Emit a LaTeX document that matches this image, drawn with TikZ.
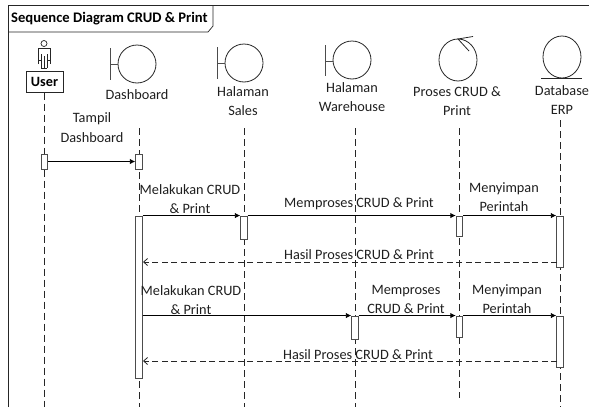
\documentclass[tikz,border=0pt]{standalone}
\usepackage{fontspec}
\setmainfont{Carlito}
\usetikzlibrary{arrows.meta}
\tikzset{
  lbl/.style={inner sep=0pt,font=\fontsize{14.3}{14.3}\selectfont,text=black!88},
  ttl/.style={inner sep=0pt,font=\fontsize{14.6}{14.6}\selectfont\bfseries,anchor=west},
  act/.style={draw=black!70,fill=white,line width=0.9pt,minimum width=6.5pt,inner sep=0pt},
  life/.style={draw=black!85,dash pattern=on 7pt off 4pt,line width=0.8pt},
  msg/.style={draw=black,line width=0.9pt,-{Latex[length=5.5pt,width=5.5pt]}},
  ret/.style={draw=black!85,line width=0.8pt,dash pattern=on 6pt off 3.5pt,-{Straight Barb[length=4pt,width=7pt]}},
  ball/.style={draw=black!85,line width=0.8pt},
}
\begin{document}
\begin{tikzpicture}[x=1pt,y=-1pt]
\useasboundingbox (0,0) rectangle (589,407);
% frame
\draw[black!85,line width=0.9pt] (8,407) -- (8,5) -- (589,5);
\draw[black!85,line width=0.7pt] (8,32) -- (208,32) -- (213,26) -- (213,5);
\node[ttl] (title) at (11,18.5) {Sequence Diagram CRUD \& Print};
% actor
\draw[black!85,line width=0.7pt] (44,43.5) circle (3);
\draw[black!85,line width=0.7pt,fill=white] (38.5,64) -- (38.5,48) -- (50.5,48) -- (50.5,64) (41,68) -- (41,54) (47,68) -- (47,54) (41,68) -- (47,68) (44,68) -- (44,56) (38.5,60) -- (41,60) (50.5,60) -- (47,60);
\node[draw=black!85,line width=1pt,minimum width=37pt,minimum height=21pt,inner sep=0pt,font=\fontsize{14.2}{14.2}\selectfont\bfseries] (user) at (44.5,81.5) {User};
% boundaries
\draw[ball] (137,64) circle (19);
\draw[black!70,line width=0.9pt] (110,48) -- (110,80) (110,64) -- (118,64);
\draw[ball] (244,63) circle (19);
\draw[black!70,line width=0.9pt] (217,47) -- (217,79) (217,63) -- (225,63);
\draw[ball] (352,60) circle (19);
\draw[black!70,line width=0.9pt] (325,45) -- (325,76) (325,61) -- (333,61);
% control
\draw[ball] (458,60) ellipse (19 and 21);
\draw[ball] (473,36.5) -- (458,39) -- (469,51);
% entity
\draw[ball] (562,57) ellipse (19 and 21);
\draw[ball] (541,78) -- (582,78);
% labels
\node[lbl] (ldash) at (137,95) {Dashboard};
\node[lbl,align=center] (lsal) at (243,101) {Halaman\\[5pt]Sales};
\node[lbl,align=center] (lwar) at (352,97) {Halaman\\[5pt]Warehouse};
\node[lbl,align=center] (lpro) at (457,101) {Proses CRUD \&\\[5pt]Print};
\node[lbl,align=center] (ldb) at (562,100) {Database\\[5pt]ERP};
% lifeline ends
\coordinate (t2) at (139,128); \coordinate (b2) at (139,407);
\coordinate (t3) at (244,128); \coordinate (b3) at (244,407);
\coordinate (t4) at (355,128); \coordinate (b4) at (355,407);
\coordinate (t5) at (459,128); \coordinate (b5) at (459,398);
\coordinate (t6) at (560,120); \coordinate (b6) at (560,407);
\coordinate (b1) at (44.5,407);
\draw[life] (user.south) -- (b1);
\draw[life] (t2) -- (b2);
\draw[life] (t3) -- (b3);
\draw[life] (t4) -- (b4);
\draw[life] (t5) -- (b5);
\draw[life] (t6) -- (b6);
% activations
\node[act,minimum height=15pt] (au) at (44.5,161.5) {};
\node[act,minimum height=15pt] (ad) at (139,161.5) {};
\node[act,minimum height=162pt] (big) at (139,297) {};
\node[act,minimum height=23pt] (as1) at (244,227.5) {};
\node[act,minimum height=20pt] (ap1) at (459.5,226) {};
\node[act,minimum height=51pt] (ae1) at (560,241.5) {};
\node[act,minimum height=23pt] (aw2) at (355,327.5) {};
\node[act,minimum height=21pt] (ap2) at (459.5,326.5) {};
\node[act,minimum height=51pt] (ae2) at (560,341.5) {};
% messages
\draw[msg] (au.east) -- (ad.west);
\draw[msg] (big.north east) -- (as1.north west);
\draw[msg] (as1.north east) -- (ap1.north west);
\draw[msg] (ap1.north east) -- (ae1.north west);
\coordinate (r1a) at (557,262); \coordinate (r1b) at (143,262);
\draw[ret] (r1a) -- (r1b);
\draw[msg] (big.east |- aw2.north) -- (aw2.north west);
\draw[msg] (aw2.north east) -- (ap2.north west);
\draw[msg] (ap2.north east) -- (ae2.north west);
\coordinate (r2a) at (557,361); \coordinate (r2b) at (143,361);
\draw[ret] (r2a) -- (r2b);
% message labels
\node[lbl,align=center] (m1) at (92,127.5) {Tampil\\[5pt]Dashboard};
\node[lbl,align=center] (m2) at (190,199) {Melakukan CRUD\\[5pt]\& Print};
\node[lbl] (m3) at (359,204) {Memproses CRUD \& Print};
\node[lbl,align=center] (m4) at (504,197) {Menyimpan\\[5pt]Perintah};
\node[lbl] (m5) at (359,255) {Hasil Proses CRUD \& Print};
\node[lbl,align=center] (m6) at (191,300) {Melakukan CRUD\\[5pt]\& Print};
\node[lbl,align=center] (m7) at (406,299.5) {Memproses\\[5pt]CRUD \& Print};
\node[lbl,align=center] (m8) at (507,299) {Menyimpan\\[5pt]Perintah};
\node[lbl] (m9) at (358,355) {Hasil Proses CRUD \& Print};
\end{tikzpicture}
\end{document}
